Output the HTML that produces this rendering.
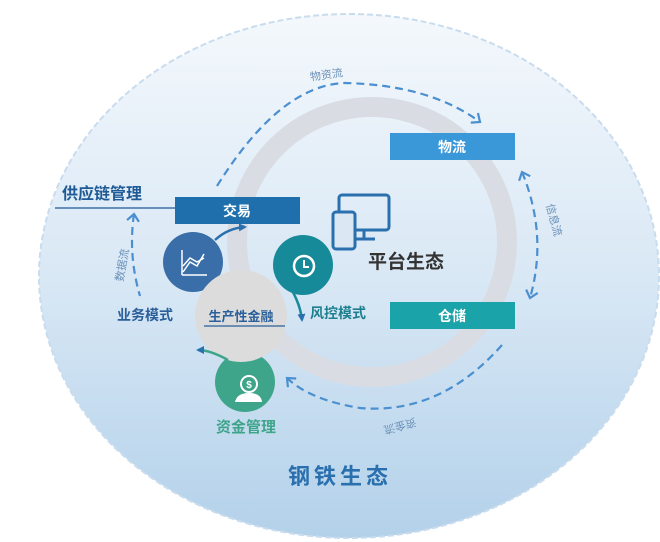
<!DOCTYPE html>
<html><head><meta charset="utf-8"><style>
body{margin:0;width:660px;height:542px;background:#fff;overflow:hidden;font-family:"Liberation Sans","Noto Sans CJK SC",sans-serif}
</style></head><body>
<svg width="660" height="542" xmlns="http://www.w3.org/2000/svg" style="position:absolute;left:0;top:0">
<defs>
<linearGradient id="bg" x1="0" y1="0" x2="0" y2="1">
<stop offset="0" stop-color="#f4f8fc"/><stop offset="0.5" stop-color="#d9e8f5"/><stop offset="1" stop-color="#b3d1ea"/></linearGradient>
<marker id="ar" markerWidth="14" markerHeight="14" refX="8" refY="7" orient="auto-start-reverse" markerUnits="userSpaceOnUse"><path d="M1,1 L8,7 L1,13" fill="none" stroke="#4a8fd0" stroke-width="2.2"/></marker>
<marker id="ar2" markerWidth="10" markerHeight="10" refX="6" refY="5" orient="auto" markerUnits="userSpaceOnUse"><path d="M0,1 L8,5 L0,9Z" fill="#2a6fae"/></marker>
</defs>
<ellipse cx="349" cy="276" rx="310" ry="262" fill="url(#bg)" stroke="#c9dcee" stroke-width="2" stroke-dasharray="6 3"/>
<circle cx="372" cy="242" r="135" fill="none" stroke="#d9dde3" stroke-width="20"/>
<g fill="none" stroke="#4a8fd0" stroke-width="2.2" stroke-dasharray="8 5">
<path d="M217,186 Q280,85 345,83 Q430,85 480,122" marker-end="url(#ar)"/>
<path d="M522,172 Q548,235 530,298" marker-end="url(#ar)" marker-start="url(#ar)"/>
<path d="M502,345 Q440,415 360,408 Q310,400 287,378" marker-end="url(#ar)"/>
<path d="M134,214 Q128,255 140,296" marker-start="url(#ar)"/>
</g>
<text x="310" y="78" font-size="11" fill="#6a90b8" transform="rotate(-8 330 75)">物资流</text>
<text x="0" y="0" font-size="11" fill="#6a90b8" transform="translate(546,205) rotate(75)">信息流</text>
<text x="0" y="0" font-size="11" fill="#6a90b8" transform="translate(415,418) rotate(165)">资金流</text>
<text x="0" y="0" font-size="11" fill="#6a90b8" transform="translate(123,282) rotate(-80)">数据流</text>
<rect x="390" y="133" width="125" height="27" fill="#3a97d8"/>
<text x="452" y="152" font-size="14" font-weight="bold" fill="#fff" text-anchor="middle">物流</text>
<rect x="390" y="302" width="125" height="27" fill="#1aa3a8"/>
<text x="452" y="321" font-size="14" font-weight="bold" fill="#fff" text-anchor="middle">仓储</text>
<rect x="175" y="197" width="125" height="27" fill="#1e6fab"/>
<text x="237" y="216" font-size="14" font-weight="bold" fill="#fff" text-anchor="middle">交易</text>
<text x="62" y="199" font-size="16" font-weight="bold" fill="#1e5a96">供应链管理</text>
<line x1="55" y1="208" x2="175" y2="208" stroke="#1e5a96" stroke-width="1.2"/>
<g fill="none" stroke="#2a6fae" stroke-width="3">
<rect x="339" y="195" width="50" height="35" rx="3"/>
<line x1="364" y1="230" x2="364" y2="238"/><line x1="355" y1="239" x2="375" y2="239"/>
<rect x="333" y="212" width="22" height="37" rx="3" fill="#dbe8f4"/>
</g>
<text x="368" y="268" font-size="19" font-weight="bold" fill="#333">平台生态</text>
<circle cx="193" cy="262" r="30" fill="#3a6ea8"/>
<g stroke="#fff" stroke-width="1.5" fill="#fff"><polyline points="183,272 190,262 197,266 204,254" fill="none"/><polyline points="183,266 190,258 197,262 204,258" fill="none"/><line x1="182" y1="250" x2="182" y2="275"/><line x1="182" y1="275" x2="207" y2="275"/></g>
<circle cx="303" cy="265" r="30" fill="#178a9a"/>
<circle cx="304" cy="266" r="10" fill="none" stroke="#fff" stroke-width="2.5"/>
<polyline points="304,260 304,267 309,267" fill="none" stroke="#fff" stroke-width="2"/>
<circle cx="245" cy="382" r="30" fill="#3ea58a"/>
<circle cx="249" cy="384" r="8" fill="none" stroke="#fff" stroke-width="2"/>
<text x="249" y="388" font-size="10" fill="#fff" text-anchor="middle" font-weight="bold">$</text>
<path d="M235,402 Q237,393 249,393 Q261,393 262,402Z" fill="#fff"/>
<circle cx="241" cy="316" r="46" fill="#dcdcdc"/>
<path d="M215,240 Q228,228 245,227" fill="none" stroke="#2a6fae" stroke-width="2.5" marker-end="url(#ar2)"/>
<path d="M284,278 Q300,300 302,320" fill="none" stroke="#178a9a" stroke-width="2.5" marker-end="url(#ar2)"/>
<path d="M228,360 Q210,350 198,350" fill="none" stroke="#3ea58a" stroke-width="2.5" marker-end="url(#ar2)"/>
<text x="241" y="321" font-size="13" font-weight="bold" fill="#2a5f9a" text-anchor="middle">生产性金融</text>
<line x1="204" y1="326" x2="285" y2="326" stroke="#2a5f9a" stroke-width="1.2"/>
<text x="117" y="320" font-size="14" font-weight="bold" fill="#2a5f9a">业务模式</text>
<text x="310" y="318" font-size="14" font-weight="bold" fill="#1d7f8f">风控模式</text>
<text x="246" y="432" font-size="15" font-weight="bold" fill="#3ea58a" text-anchor="middle">资金管理</text>
<text x="340" y="484" font-size="22" font-weight="bold" fill="#2a6fae" text-anchor="middle" letter-spacing="4">钢铁生态</text>
</svg>
</body></html>
